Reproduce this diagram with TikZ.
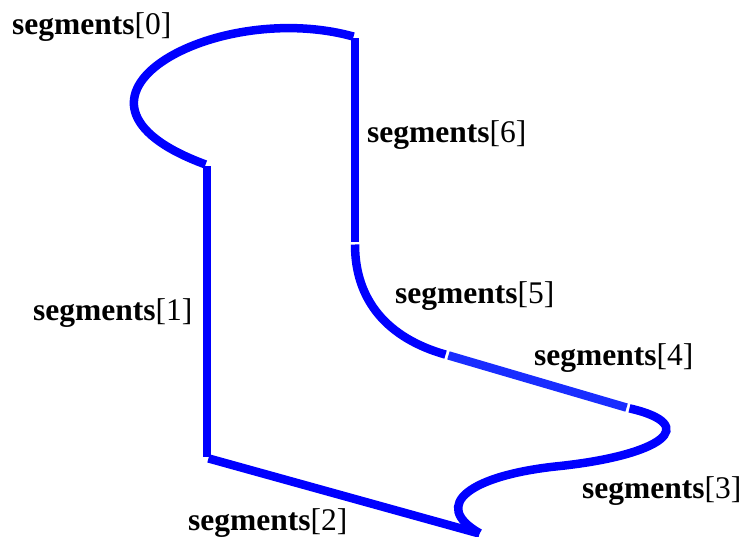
\documentclass[tikz,border=0pt]{standalone}
\usepackage{fontspec}
\setmainfont{Liberation Serif}
\usetikzlibrary{positioning}
\definecolor{segblue}{RGB}{0,0,255}
\definecolor{seglight}{RGB}{25,45,255}

\begin{document}
\begin{tikzpicture}[x=1pt,y=-1pt,
  seg/.style={line width=8.5pt,segblue,shorten <=1.5pt,shorten >=1.5pt},
  lbl/.style={anchor=base west,inner sep=0pt,font=\fontsize{31.5}{36}\selectfont}]
  \useasboundingbox (0,0) rectangle (746,537);
  % joints between the segments
  \coordinate (j0) at (207,165);
  \coordinate (j1) at (207,458);
  \coordinate (j2) at (481,534);
  \coordinate (j3) at (628,408);
  \coordinate (j4) at (447,355);
  \coordinate (j5) at (355,243);
  \coordinate (j6) at (355,37);
  % the seven segments
  \draw[seg] (j0) .. controls (30,100) and (215,-2) .. (j6);
  \draw[seg] (j0) -- (j1);
  \draw[seg] (j1) -- (j2);
  \draw[seg] (j3) .. controls (702,425) and (662,455) .. (560,466)
    .. controls (470,475) and (430,505) .. (j2);
  \draw[seg,seglight] (j4) -- (j3);
  \draw[seg] (j5) .. controls (355,300) and (387,338) .. (j4);
  \draw[seg] (j6) -- (j5);
  % labels
  \foreach \i/\x/\y in {0/12/35,1/33/320,2/188/530,3/582/498,4/534/365,5/395/303,6/367/143}
    \node[lbl] (seglabel\i) at (\x,\y) {\textbf{segments}[\i]};
\end{tikzpicture}
\end{document}
